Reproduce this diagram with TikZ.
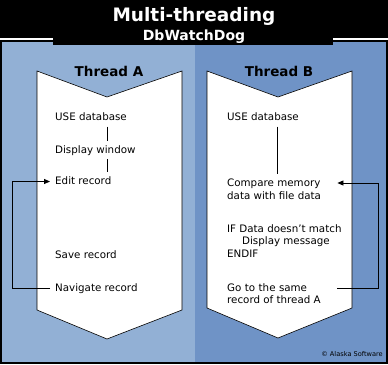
\documentclass[tikz,border=0pt]{standalone}
\usepackage{fontspec}
\setmainfont{DejaVu Sans}
\usepackage{xcolor}
\usepackage{tikz}
\usetikzlibrary{arrows.meta}
\definecolor{panea}{RGB}{146, 176, 213}
\definecolor{paneb}{RGB}{111, 147, 198}
\tikzset{
	codeline/.style={anchor=base west, inner xsep=5pt, inner ysep=4pt, text height=8pt, text depth=2pt, font=\fontsize{10.3}{12}\selectfont},
	widecode/.style={codeline, text width=105pt, align=left},
	threadhead/.style={anchor=base, font=\fontsize{13.5}{15}\selectfont\bfseries},
	flowline/.style={black, line width=0.8pt},
	loopline/.style={flowline, -{Triangle[length=6pt, width=5pt]}}
}

\begin{document}
\begin{tikzpicture}[x=1pt, y=-1pt]
		\fill[black] (0,0) rectangle (388,364);
		\fill[panea] (2,42) rectangle (195,362);
		\fill[paneb] (195,42) rectangle (386,362);
		\fill[black] (53,0) rectangle (333,45);
		\fill[white] (0,38) rectangle (53,40);
		\fill[white] (333,38) rectangle (388,40);

		\node[anchor=base, text=white, font=\fontsize{18.5}{20}\selectfont\bfseries] (title) at (194,21.5) {Multi-threading};
		\node[anchor=base, text=white, font=\fontsize{14}{16}\selectfont\bfseries] (subtitle) at (194,40.5) {DbWatchDog};

		\filldraw[fill=white, draw=black, line width=0.6pt] (37,71) -- (107,97) -- (182,71) -- (182,310) -- (107,339) -- (37,310) -- cycle;
		\filldraw[fill=white, draw=black, line width=0.6pt] (207,71) -- (278,97) -- (352,71) -- (352,308) -- (278,338) -- (207,308) -- cycle;

		\node[threadhead] (headA) at (109,76.5) {Thread A};
		\node[threadhead] (headB) at (279,76.5) {Thread B};

		\coordinate (axisA) at (107,0);
		\coordinate (axisB) at (277,0);

		\node[codeline] (useA) at (50,120.5) {USE database};
		\node[codeline] (dispA) at (50,153) {Display window};
		\node[codeline] (editA) at (50,184.5) {Edit record};
		\node[codeline] (saveA) at (50,258.5) {Save record};
		\node[codeline] (navA) at (50,291) {Navigate record};

		\node[codeline] (useB) at (222,120.5) {USE database};
		\node[widecode] (cmpB) at (222,186) {Compare memory};
		\node[codeline] (cmpBb) at (222,199.5) {data with file data};
		\node[codeline] (ifB) at (222,232) {IF Data doesn't match};
		\node[codeline] (msgB) at (237,244.5) {Display message};
		\node[codeline] (endB) at (222,257.5) {ENDIF};
		\node[widecode] (goB) at (222,291) {Go to the same};
		\node[codeline] (goBb) at (222,303.5) {record of thread A};

		\draw[flowline] (useA.south -| axisA) -- (dispA.north -| axisA);
		\draw[flowline] (dispA.south -| axisA) -- (editA.north -| axisA);
		\draw[flowline] (useB.south -| axisB) -- (cmpB.north -| axisB);

		\draw[loopline] (navA.west) -- ++(-38,0) |- (editA.west);
		\draw[loopline] (goB.east) -- ++(41,0) |- (cmpB.east);

		\node[anchor=base, font=\fontsize{6.6}{8}\selectfont] (credit) at (352,356.5) {© Alaska Software};
	\end{tikzpicture}
\end{document}
